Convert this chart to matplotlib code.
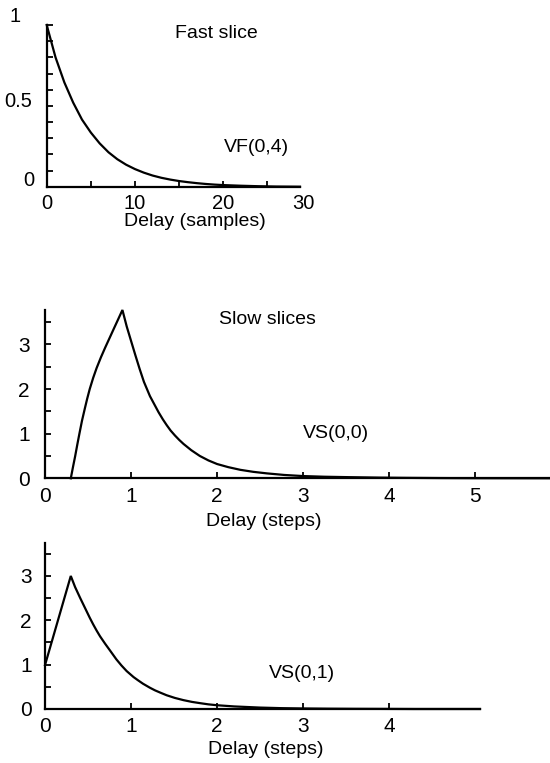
import matplotlib
matplotlib.use("Agg")
import matplotlib.pyplot as plt
from matplotlib.transforms import ScaledTranslation

plt.rcParams['font.family'] = ['Liberation Sans', 'DejaVu Sans']

W, H = 550, 763

# Fast slice VF(0,4): delay in samples
fast_delay = [0, 1, 2, 3, 4, 5, 6, 7, 8, 9, 10, 11, 12, 13, 14, 15, 16, 17, 18, 19, 20,
              22, 24, 26, 28.7]
fast_value = [1.0, 0.80, 0.645, 0.52, 0.415, 0.335, 0.268, 0.213, 0.170, 0.136, 0.109,
              0.087, 0.069, 0.055, 0.044, 0.035, 0.028, 0.022, 0.017, 0.013, 0.010,
              0.006, 0.003, 0.001, 0.0]

# Slow slice VS(0,0): delay in steps
slow0_delay = [0.30, 0.325, 0.35, 0.375, 0.40, 0.43, 0.465, 0.49, 0.52, 0.56, 0.60, 0.65,
               0.70, 0.75, 0.795, 0.85, 0.90, 0.95, 1.00, 1.05, 1.10, 1.15, 1.22, 1.27,
               1.32, 1.37, 1.415, 1.46, 1.51, 1.56, 1.61, 1.70, 1.80, 1.90, 2.00, 2.13,
               2.27, 2.42, 2.58, 2.78, 3.00, 3.25, 3.55, 3.9, 4.2, 4.6, 5.0, 5.87]
slow0_value = [0.0, 0.25, 0.49, 0.75, 1.00, 1.29, 1.58, 1.78, 2.00, 2.25, 2.47, 2.71,
               2.93, 3.14, 3.33, 3.56, 3.77, 3.40, 3.08, 2.76, 2.45, 2.16, 1.84, 1.66,
               1.48, 1.32, 1.19, 1.07, 0.96, 0.86, 0.77, 0.63, 0.50, 0.40, 0.32, 0.25,
               0.19, 0.145, 0.11, 0.075, 0.05, 0.035, 0.025, 0.015, 0.01, 0.005, 0.002, 0.0]

# Slow slice VS(0,1): delay in steps
slow1_delay = [0.0, 0.30, 0.35, 0.41, 0.45, 0.485, 0.52, 0.56, 0.60, 0.64, 0.70, 0.756,
               0.83, 0.89, 0.95, 1.03, 1.08, 1.14, 1.22, 1.28, 1.34, 1.415, 1.51, 1.61,
               1.71, 1.81, 1.9, 2.0, 2.2, 2.5, 2.75, 3.0, 3.3, 3.6, 4.0, 4.3, 5.06]
slow1_value = [0.99, 3.0, 2.75, 2.50, 2.34, 2.20, 2.06, 1.91, 1.77, 1.64, 1.47, 1.32,
               1.12, 0.98, 0.855, 0.72, 0.65, 0.57, 0.48, 0.42, 0.37, 0.31, 0.25, 0.20,
               0.16, 0.13, 0.105, 0.085, 0.058, 0.032, 0.019, 0.012, 0.007, 0.004, 0.002,
               0.0, 0.0]

fast_xticks = [0, 10, 20]
fast_xlabels = ['0', '10', '20']
fast_yticks = [0, 0.5, 1]
fast_ylabels = ['0', '0.5', '1']
slow0_xticks = [0, 1, 2, 3, 4, 5]
slow1_xticks = [0, 1, 2, 3, 4]
slow_yticks = [0, 1, 2, 3]

fig = plt.figure(figsize=(W / 100, H / 100), dpi=100)


def px_axes(left, top, right, bottom):
    return fig.add_axes([left / W, 1 - bottom / H, (right - left) / W, (bottom - top) / H])


def style(ax, ypad, size, xpad=6):
    for s in ('top', 'right'):
        ax.spines[s].set_visible(False)
    for s in ('left', 'bottom'):
        ax.spines[s].set_linewidth(1.6)
        ax.spines[s].set_capstyle('projecting')
    ax.tick_params(which='both', direction='in', length=4, width=1.3,
                   labelsize=size, color='black')
    ax.tick_params(axis='x', pad=xpad)
    ax.tick_params(axis='y', pad=ypad)
    ax.patch.set_alpha(0)


def shift(artist, dx_px, dy_px):
    artist.set_transform(artist.get_transform() +
                         ScaledTranslation(dx_px / 100, dy_px / 100, fig.dpi_scale_trans))


line_kw = dict(color='black', lw=1.6, clip_on=False, solid_joinstyle='miter')
text_kw = dict(fontsize=14, ha='center', va='center')

# --- Fast slice ---
ax1 = px_axes(46.7, 25, 300, 186.7)
ax1.plot(fast_delay, fast_value, **line_kw)
ax1.set_xlim(0, 28.7)
ax1.set_ylim(0, 1.0)
ax1.set_xticks(fast_xticks)
ax1.set_xticklabels(fast_xlabels)
ax1.set_xticks([5, 15, 25], minor=True)
ax1.set_yticks(fast_yticks)
ax1.set_yticklabels(fast_ylabels)
ax1.set_yticks([0.1, 0.2, 0.3, 0.4, 0.6, 0.7, 0.8, 0.9], minor=True)
style(ax1, 9, 14.5, xpad=5)
for lab, (dx, dy) in zip(ax1.get_yticklabels(), [(0, 8), (-2, 6), (-14, 10)]):
    shift(lab, dx, dy)
ax1.text(1.0, 0, '30', transform=ax1.transAxes + ScaledTranslation(3 / 100, -17 / 100, fig.dpi_scale_trans),
         fontsize=14.5, ha='center', va='center')
fig.text(216 / W, 1 - 33 / H, 'Fast slice', **text_kw)
fig.text(256 / W, 1 - 147 / H, 'VF(0,4)', **text_kw)
fig.text(195 / W, 1 - 221 / H, 'Delay (samples)', **text_kw)

# --- Slow slice VS(0,0) ---
ax2 = px_axes(45, 310, 550, 478.3)
ax2.plot(slow0_delay, slow0_value, **line_kw)
ax2.set_xlim(0, 5.87)
ax2.set_ylim(0, 3.77)
ax2.set_xticks(slow0_xticks)
ax2.set_yticks(slow_yticks)
ax2.set_yticks([0.5, 1.5, 2.5, 3.5], minor=True)
style(ax2, 11, 15)
fig.text(267 / W, 1 - 319 / H, 'Slow slices', **text_kw)
fig.text(336 / W, 1 - 433 / H, 'VS(0,0)', **text_kw)
fig.text(264 / W, 1 - 522 / H, 'Delay (steps)', **text_kw)

# --- Slow slice VS(0,1) ---
ax3 = px_axes(45, 542.7, 480, 709)
ax3.plot(slow1_delay, slow1_value, **line_kw)
ax3.set_xlim(0, 5.06)
ax3.set_ylim(0, 3.75)
ax3.set_xticks(slow1_xticks)
ax3.set_yticks(slow_yticks)
ax3.set_yticks([0.5, 1.5, 2.5, 3.5], minor=True)
style(ax3, 9.5, 15)
fig.text(302 / W, 1 - 673 / H, 'VS(0,1)', **text_kw)
fig.text(266 / W, 1 - 749 / H, 'Delay (steps)', **text_kw)

fig.savefig('out.png', dpi=100, facecolor='white')
